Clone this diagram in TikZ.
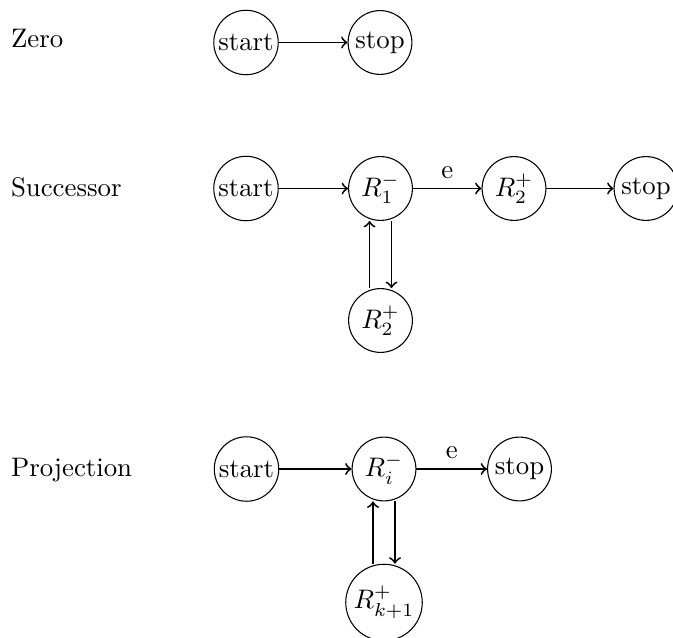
\documentclass[tikz,border=0pt]{standalone}
\begin{document}
\begin{tikzpicture}[x=0.37313pt,y=-0.37313pt,
  st/.style={circle,draw,line width=0.4pt,inner sep=1pt,minimum size=23.8pt},
  lbl/.style={anchor=base west,inner sep=0pt},
  edge/.style={->,line width=0.7pt}]
\useasboundingbox (0,0) rectangle (673,637);
% Zero
\node[lbl] (zl) at (10.5,48) {Zero};
\node[st] (z1) at (246,42.5) {start};
\node[st] (z2) at (380,42.5) {stop};
\draw[edge] (z1) -- (z2);
% Successor
\node[lbl] (sl) at (10.5,196) {Successor};
\node[st] (s1) at (246,188.5) {start};
\node[st] (s2) at (380.5,188.5) {$R_1^-$};
\node[st] (s3) at (514,188.5) {$R_2^+$};
\node[st] (s4) at (646,188.5) {stop};
\node[st] (s5) at (380.5,320.5) {$R_2^+$};
\draw[edge] (s1) -- (s2);
\draw[edge] (s2) -- node[above] (se) {e} (s3);
\draw[edge] (s3) -- (s4);
\draw[edge] ([xshift=-4.1pt]s5.north) -- ([xshift=-4.1pt]s2.south);
\draw[edge] ([xshift=4.1pt]s2.south) -- ([xshift=4.1pt]s5.north);
% Projection
\node[lbl] (pl) at (10.5,476.5) {Projection};
\node[st] (p1) at (246.5,469) {start};
\node[st] (p2) at (384,469) {$R_i^-$};
\node[st] (p3) at (519.5,469) {stop};
\node[st,minimum size=27.6pt] (p4) at (384,602.5) {$R_{k+1}^+$};
\draw[edge] (p1) -- (p2);
\draw[edge] (p2) -- node[above] (pe) {e} (p3);
\draw[edge] ([xshift=-4.1pt]p4.north) -- ([xshift=-4.1pt]p2.south);
\draw[edge] ([xshift=4.1pt]p2.south) -- ([xshift=4.1pt]p4.north);
\end{tikzpicture}
\end{document}
